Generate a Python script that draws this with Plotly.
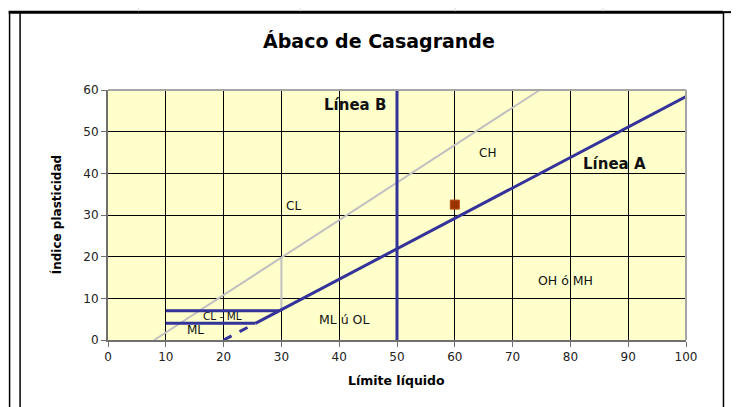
import plotly.graph_objects as go

linea_a_ll = [25.5, 100]
linea_a_ip = [4.0, 58.4]
linea_a_dash_ll = [20, 25.5]
linea_a_dash_ip = [0, 4.0]

linea_u_ll = [8, 74.7]
linea_u_ip = [0, 60]
corte_u_ll = [30, 30]
corte_u_ip = [7, 19.8]

linea_b_ll = [50, 50]
linea_b_ip = [0, 60]

clml_sup_ll = [10, 29.6]
clml_sup_ip = [7, 7]
clml_inf_ll = [10, 25.5]
clml_inf_ip = [4, 4]

muestra_ll = [60]
muestra_ip = [32.5]

etiquetas = ["Línea B", "CH", "Línea A", "CL", "OH ó MH", "ML ú OL", "CL - ML", "ML"]
etiq_ll = [42.8, 65.7, 87.7, 32.1, 79.1, 40.9, 19.8, 15.1]
etiq_ip = [56.5, 45.0, 42.3, 32.2, 14.3, 4.9, 5.8, 2.5]
etiq_size = [15, 12, 15, 12, 12.5, 12.5, 10.5, 12]
etiq_bold = [True, False, True, False, False, False, False, False]

ticks_x = list(range(0, 101, 10))
ticks_y = list(range(0, 61, 10))

AZUL = "#333399"
GRIS = "#c0c0c0"
FONT = "DejaVu Sans, Liberation Sans, Arial"

# la pagina tiene un margen de 8px en el body, se compensa aqui
OFF = 8
W, H = 739, 407
L = 107.5 - OFF
T = 90 - OFF
R = W - (686 - OFF)
B = H - (340.5 - OFF)


def px(x):
    return (x - OFF - L) / (W - L - R)


def py(y):
    return (H - B - (y - OFF)) / (H - T - B)


fig = go.Figure()
fig.add_trace(go.Scatter(x=linea_u_ll, y=linea_u_ip, mode="lines", line=dict(color=GRIS, width=2)))
fig.add_trace(go.Scatter(x=corte_u_ll, y=corte_u_ip, mode="lines", line=dict(color=GRIS, width=2)))
fig.add_trace(go.Scatter(x=linea_a_ll, y=linea_a_ip, mode="lines", line=dict(color=AZUL, width=3)))
fig.add_trace(go.Scatter(x=linea_a_dash_ll, y=linea_a_dash_ip, mode="lines",
                         line=dict(color=AZUL, width=3, dash="dash")))
fig.add_trace(go.Scatter(x=linea_b_ll, y=linea_b_ip, mode="lines", line=dict(color=AZUL, width=3)))
fig.add_trace(go.Scatter(x=clml_sup_ll, y=clml_sup_ip, mode="lines", line=dict(color=AZUL, width=3)))
fig.add_trace(go.Scatter(x=clml_inf_ll, y=clml_inf_ip, mode="lines", line=dict(color=AZUL, width=3)))
fig.add_trace(go.Scatter(x=muestra_ll, y=muestra_ip, mode="markers",
                         marker=dict(symbol="square", size=9, color="#993300",
                                     line=dict(color="#b84a10", width=1))))

for txt, x, y, s, b in zip(etiquetas, etiq_ll, etiq_ip, etiq_size, etiq_bold):
    fig.add_annotation(x=x, y=y, text="<b>%s</b>" % txt if b else txt, showarrow=False,
                       xanchor="center", yanchor="middle",
                       font=dict(family=FONT, size=s, color="#111"))

# titulos
fig.add_annotation(xref="paper", yref="paper", x=px(379), y=py(41), text="<b>Ábaco de Casagrande</b>",
                   showarrow=False, xanchor="center", yanchor="middle",
                   font=dict(family=FONT, size=19, color="#000"))
fig.add_annotation(xref="paper", yref="paper", x=px(396), y=py(381), text="<b>Límite líquido</b>",
                   showarrow=False, xanchor="center", yanchor="middle",
                   font=dict(family=FONT, size=12.5, color="#000"))
fig.add_annotation(xref="paper", yref="paper", x=px(56), y=py(215), text="<b>Índice plasticidad</b>",
                   showarrow=False, xanchor="center", yanchor="middle", textangle=-90,
                   font=dict(family=FONT, size=12, color="#000"))

# marco del documento
marco = [
    (9, 12, 9, H + OFF, "#000", 1.5),
    (19.5, 13, 19.5, H + OFF, "#000", 1.5),
    (8, 12, 723, 12, "#000", 3),
    (723, 12, W + OFF, 12, "#000", 2),
    (723.5, 12, 723.5, H + OFF, "#000", 1.5),
    (138, OFF, 138, 11, "#d8d8d8", 1),
    (300, OFF, 300, 11, "#d8d8d8", 1),
    (455, OFF, 455, 11, "#d8d8d8", 1),
    (603, OFF, 603, 11, "#d8d8d8", 1),
]
for x0, y0, x1, y1, c, w in marco:
    fig.add_shape(type="line", xref="paper", yref="paper", x0=px(x0), y0=py(y0), x1=px(x1), y1=py(y1),
                  line=dict(color=c, width=w))

# bordes superior y derecho del area de trazado
fig.add_shape(type="line", xref="paper", yref="paper", x0=0, y0=1, x1=1, y1=1, line=dict(color="#a6a6a6", width=2))
fig.add_shape(type="line", xref="paper", yref="paper", x0=1, y0=0, x1=1, y1=1, line=dict(color="#a6a6a6", width=2))

eje = dict(showgrid=True, gridcolor="#000", gridwidth=1, zeroline=False,
           showline=True, linecolor="#707070", linewidth=2,
           ticks="outside", ticklen=5, tickcolor="#707070", tickwidth=1,
           tickfont=dict(family=FONT, size=12, color="#222"), fixedrange=True)

fig.update_xaxes(range=[0, 100], tickvals=ticks_x, **eje)
fig.update_yaxes(range=[0, 60], tickvals=ticks_y, **eje)

fig.update_layout(width=W, height=H, margin=dict(l=L, r=R, t=T, b=B),
                  plot_bgcolor="#ffffcc", paper_bgcolor="#fff", showlegend=False)

fig.write_html("out.html")
